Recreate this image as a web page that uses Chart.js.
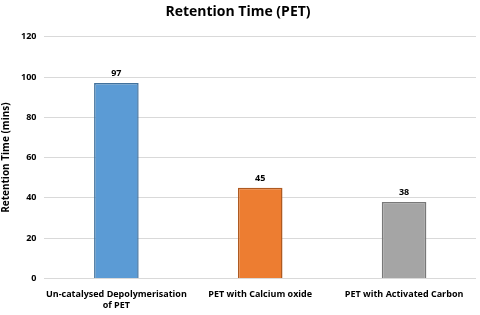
<!DOCTYPE html>
<html>
<head>
<meta charset="utf-8">
<script src="https://cdn.jsdelivr.net/npm/chart.js@4/dist/chart.umd.min.js"></script>
<style>
  html, body { margin: 0; padding: 0; background: #fff; }
  #wrap { width: 480px; height: 315px; }
</style>
</head>
<body>
<div id="wrap"><canvas id="myChart"></canvas></div>
<script>
const categories = [['Un-catalysed Depolymerisation', 'of PET'], 'PET with Calcium oxide', 'PET with Activated Carbon'];
const retentionTimes = [97, 45, 38];
const barColors = ['#5B9BD5', '#ED7D31', '#A5A5A5'];
const borderColors = ['#41719C', '#AE5A21', '#787878'];
const yTicks = [0, 20, 40, 60, 80, 100, 120];

const fontFamily = '"Open Sans", "Liberation Sans", sans-serif';

// draws the value above each bar
const valueLabels = {
    id: 'valueLabels',
    afterDatasetsDraw(chart) {
        const c = chart.ctx;
        c.save();
        c.font = 'bold 9px ' + fontFamily;
        c.fillStyle = '#000';
        c.textAlign = 'center';
        c.textBaseline = 'bottom';
        chart.getDatasetMeta(0).data.forEach((bar, i) => {
            c.fillText(retentionTimes[i], bar.x, bar.y - 5);
        });
        c.restore();
    }
};

const ctx = document.getElementById('myChart').getContext('2d');

new Chart(ctx, {
    type: 'bar',
    data: {
        labels: categories,
        datasets: [{
            label: 'Retention Time',
            data: retentionTimes,
            backgroundColor: barColors,
            borderColor: borderColors,
            borderWidth: 1.5,
            categoryPercentage: 1,
            barPercentage: 0.31
        }]
    },
    options: {
        responsive: true,
        maintainAspectRatio: false,
        animation: false,
        layout: { padding: { left: 0, right: 4, top: 0, bottom: 1 } },
        scales: {
            y: {
                min: 0,
                max: 120,
                afterBuildTicks: (axis) => { axis.ticks = yTicks.map(v => ({ value: v })); },
                border: { display: false },
                grid: { color: '#d9d9d9', drawTicks: false },
                ticks: {
                    color: '#000',
                    padding: 8,
                    font: { family: fontFamily, size: 9, weight: 'bold' }
                },
                title: {
                    display: true,
                    text: 'Retention Time (mins)',
                    color: '#000',
                    padding: { top: 0, bottom: 1 },
                    font: { family: fontFamily, size: 10, weight: 'bold' }
                }
            },
            x: {
                border: { display: false },
                grid: { display: false },
                ticks: {
                    color: '#000',
                    padding: 3,
                    autoSkip: false,
                    maxRotation: 0,
                    font: { family: fontFamily, size: 9, weight: 'bold' }
                }
            }
        },
        plugins: {
            legend: { display: false },
            tooltip: { enabled: false },
            title: {
                display: true,
                text: 'Retention Time (PET)',
                color: '#000',
                padding: { top: 4, bottom: 16 },
                font: { family: fontFamily, size: 14, weight: 'bold' }
            }
        }
    },
    plugins: [valueLabels]
});
</script>
</body>
</html>
